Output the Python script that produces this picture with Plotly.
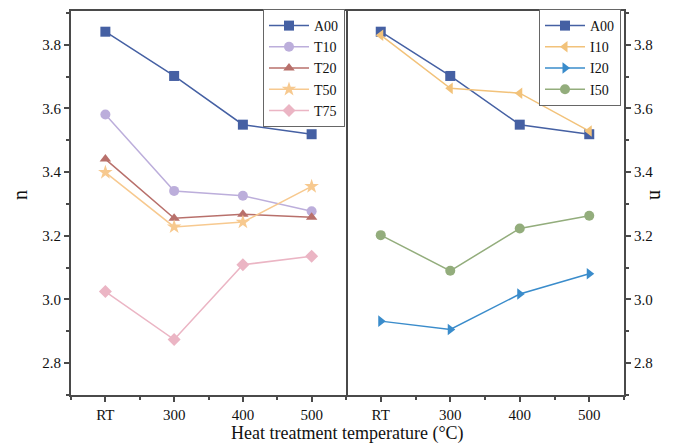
import plotly.graph_objects as go

categories = ["RT", "300", "400", "500"]
A00 = [3.841, 3.702, 3.549, 3.519]
T10 = [3.581, 3.341, 3.326, 3.277]
T20 = [3.441, 3.255, 3.268, 3.258]
T50 = [3.399, 3.228, 3.243, 3.355]
T75 = [3.025, 2.874, 3.109, 3.136]
I10 = [3.830, 3.663, 3.648, 3.529]
I20 = [2.932, 2.906, 3.017, 3.081]
I50 = [3.202, 3.090, 3.223, 3.263]

xpos = list(range(len(categories)))

left_series = [
    ("A00", A00, "#4560a3", "square"),
    ("T10", T10, "#bcaedb", "circle"),
    ("T20", T20, "#b8706b", "triangle-up"),
    ("T50", T50, "#f7c98f", "star"),
    ("T75", T75, "#ebb5c4", "diamond"),
]
right_series = [
    ("A00", A00, "#4560a3", "square"),
    ("I10", I10, "#f2c27a", "triangle-left"),
    ("I20", I20, "#3a8ccb", "triangle-right"),
    ("I50", I50, "#93ad7c", "circle"),
]

fig = go.Figure()
for name, vals, col, sym in left_series:
    fig.add_trace(go.Scatter(x=xpos, y=vals, name=name, mode="lines+markers",
                             line=dict(color=col, width=1.5),
                             marker=dict(symbol=sym, size=10 if sym != "star" else 11, color=col),
                             xaxis="x", yaxis="y", legend="legend"))
for name, vals, col, sym in right_series:
    fig.add_trace(go.Scatter(x=xpos, y=vals, name=name, mode="lines+markers",
                             line=dict(color=col, width=1.5),
                             marker=dict(symbol=sym, size=10, color=col),
                             xaxis="x2", yaxis="y2", legend="legend2"))

font_family = "Liberation Serif"
axcol = "#4a4a4a"

# figure coordinates (page has an 8px body offset)
W, H = 675, 435
L, R, T, B = 63, 59, 1, 48
pw = W - L - R
ph = H - T - B
split = 275 / pw

xcommon = dict(range=[-0.5, 3.5], tickmode="array", tickvals=xpos, ticktext=categories,
               ticks="outside", ticklen=5, tickwidth=1.5, tickcolor=axcol,
               minor=dict(ticks="outside", ticklen=3, tickwidth=1.5, tickcolor=axcol,
                          tick0=0, dtick=0.5),
               showline=True, linecolor=axcol, linewidth=2, mirror=True,
               showgrid=False, zeroline=False,
               tickfont=dict(family=font_family, size=15, color="#111"))
ycommon = dict(range=[2.7, 3.906], tickmode="linear", tick0=2.8, dtick=0.2, tickformat=".1f",
               ticks="outside", ticklen=5, tickwidth=1.5, tickcolor=axcol,
               minor=dict(ticks="outside", ticklen=3, tickwidth=1.5, tickcolor=axcol,
                          tick0=2.7, dtick=0.1),
               showline=True, linecolor=axcol, linewidth=2,
               showgrid=False, zeroline=False,
               tickfont=dict(family=font_family, size=15, color="#111"))

legfont = dict(family=font_family, size=14, color="#111")
leg_y = 1 + 2 / ph

fig.update_layout(
    width=W, height=H,
    margin=dict(l=L, r=R, t=T, b=B),
    paper_bgcolor="white", plot_bgcolor="white",
    font=dict(family=font_family, color="#111"),
    xaxis=dict(domain=[0, split], anchor="y", **xcommon),
    xaxis2=dict(domain=[split, 1], anchor="y2", **xcommon),
    yaxis=dict(anchor="x", side="left", mirror=True, **ycommon),
    yaxis2=dict(anchor="x2", side="right", mirror=False, **ycommon),
    legend=dict(x=(337 - L) / pw, xanchor="right", y=leg_y, yanchor="top",
                bordercolor="#666", borderwidth=1, bgcolor="white",
                font=legfont, itemwidth=40, tracegroupgap=0),
    legend2=dict(x=(613 - L) / pw, xanchor="right", y=leg_y, yanchor="top",
                 bordercolor="#666", borderwidth=1, bgcolor="white",
                 font=legfont, itemwidth=40, tracegroupgap=0),
    annotations=[
        dict(text="Heat treatment temperature (°C)", x=0.5, xref="paper",
             y=(ph - 425) / ph, yref="paper", yanchor="middle", showarrow=False,
             font=dict(family=font_family, size=18, color="#111")),
        dict(text="n", x=(12 - L) / pw, xref="paper", y=(ph - 185) / ph, yref="paper",
             xanchor="center", yanchor="middle", textangle=-90, showarrow=False,
             font=dict(family=font_family, size=20, color="#111")),
        dict(text="n", x=(649 - L) / pw, xref="paper", y=(ph - 185) / ph, yref="paper",
             xanchor="center", yanchor="middle", textangle=90, showarrow=False,
             font=dict(family=font_family, size=20, color="#111")),
    ],
)

fig.write_html("out.html")
